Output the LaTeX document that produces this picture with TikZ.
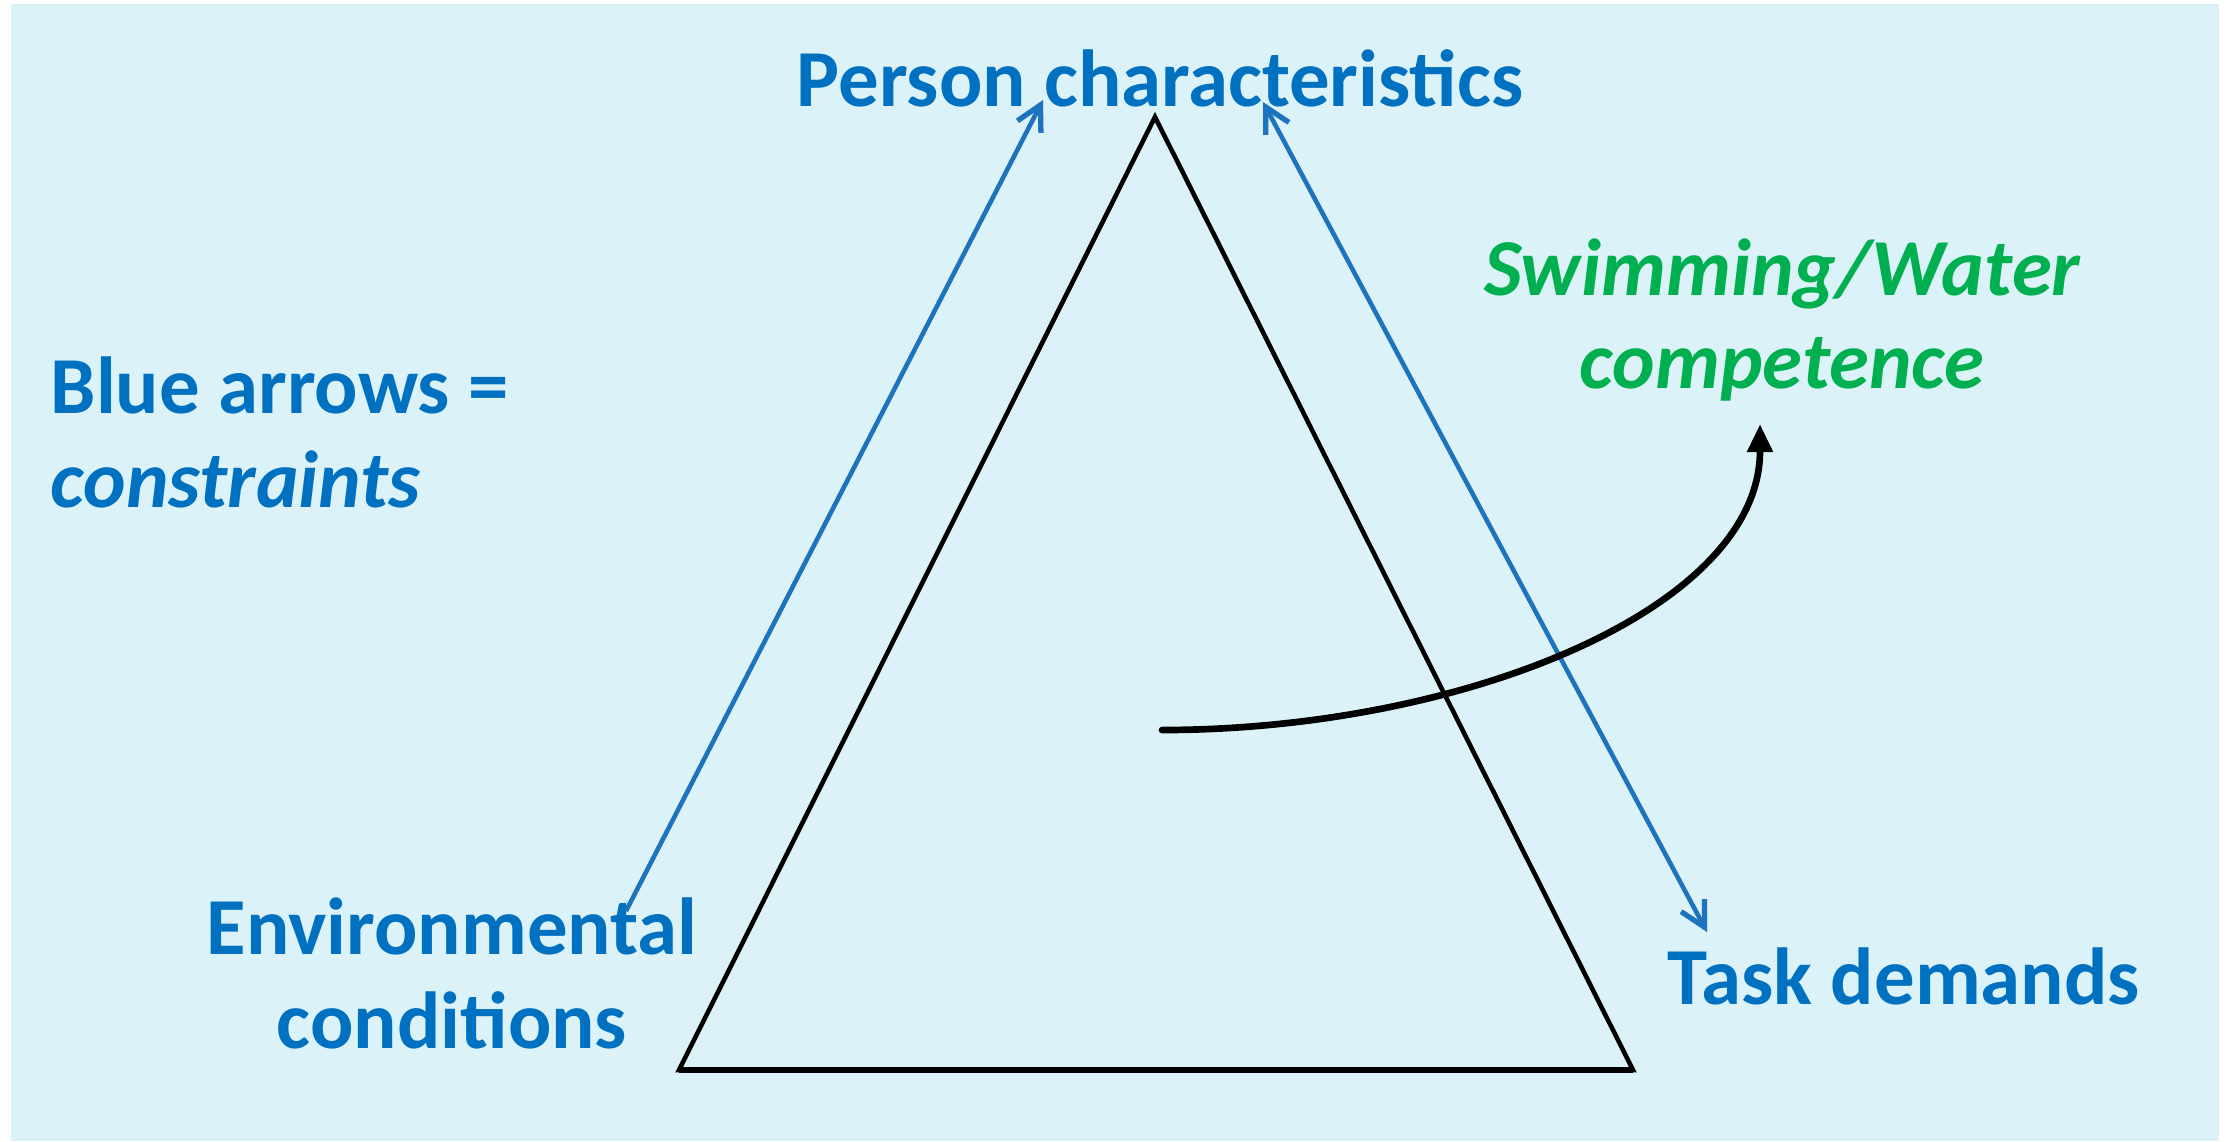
\documentclass[tikz,border=0pt]{standalone}
\usepackage{fontspec}
\setmainfont{Carlito}
\usepackage{xcolor}
\usetikzlibrary{arrows.meta}

\definecolor{bgcyan}{RGB}{219,243,248}
\definecolor{txtblue}{RGB}{0,112,192}
\definecolor{arrblue}{RGB}{30,115,190}
\definecolor{txtgreen}{RGB}{0,176,80}

\tikzset{
  lbl/.style={inner sep=0pt, text=txtblue, font=\fontsize{23}{26.7}\selectfont\bfseries},
  constraint/.style={arrblue, line width=1.3pt},
  barb/.tip={Straight Barb[length=7pt, width=7.5pt, line width=1.5pt]}
}

\begin{document}
\begin{tikzpicture}[x=0.01cm, y=-0.01cm]
\useasboundingbox (0,0) rectangle (2231,1141);
\fill[bgcyan] (11,4) rectangle (2219,1141);

% triangle
\coordinate (apex) at (1155,117);
\coordinate (bl) at (679,1070);
\coordinate (br) at (1633,1070);
\draw[line width=1.3pt, line join=miter] (apex) -- (br) -- (bl) -- cycle;
\draw[line width=1.6pt] (bl) -- (br);

% labels
\node[lbl] (person) at (1160,78) {Person characteristics};
\node[lbl, anchor=west, align=left] (legend) at (50,432) {Blue arrows =\\\textit{constraints}};
\node[lbl, align=center] (env) at (452,973) {Environmental\\conditions};
\node[lbl, anchor=west] (task) at (1667,976) {Task demands};
\node[lbl, text=txtgreen, align=center, font=\fontsize{23}{26.7}\selectfont\bfseries\itshape] (swim) at (1782,320) {Swimming/Water\\competence};

% constraint arrows
\coordinate (envend) at (626,911);
\coordinate (persL) at (1043,100);
\coordinate (persR) at (1263,102);
\coordinate (taskend) at (1707,932);
\draw[constraint, -barb] (envend) -- (persL);
\draw[constraint, barb-barb] (persR) -- (taskend);

% competence arrow
\coordinate (mid) at (1162,730);
\coordinate (comp) at (1760,424);
\draw[line width=1.9pt, line cap=round, -{Triangle[length=8pt, width=7pt]}]
  (mid) .. controls (1460,730) and (1760,610) .. (comp);
\end{tikzpicture}
\end{document}
